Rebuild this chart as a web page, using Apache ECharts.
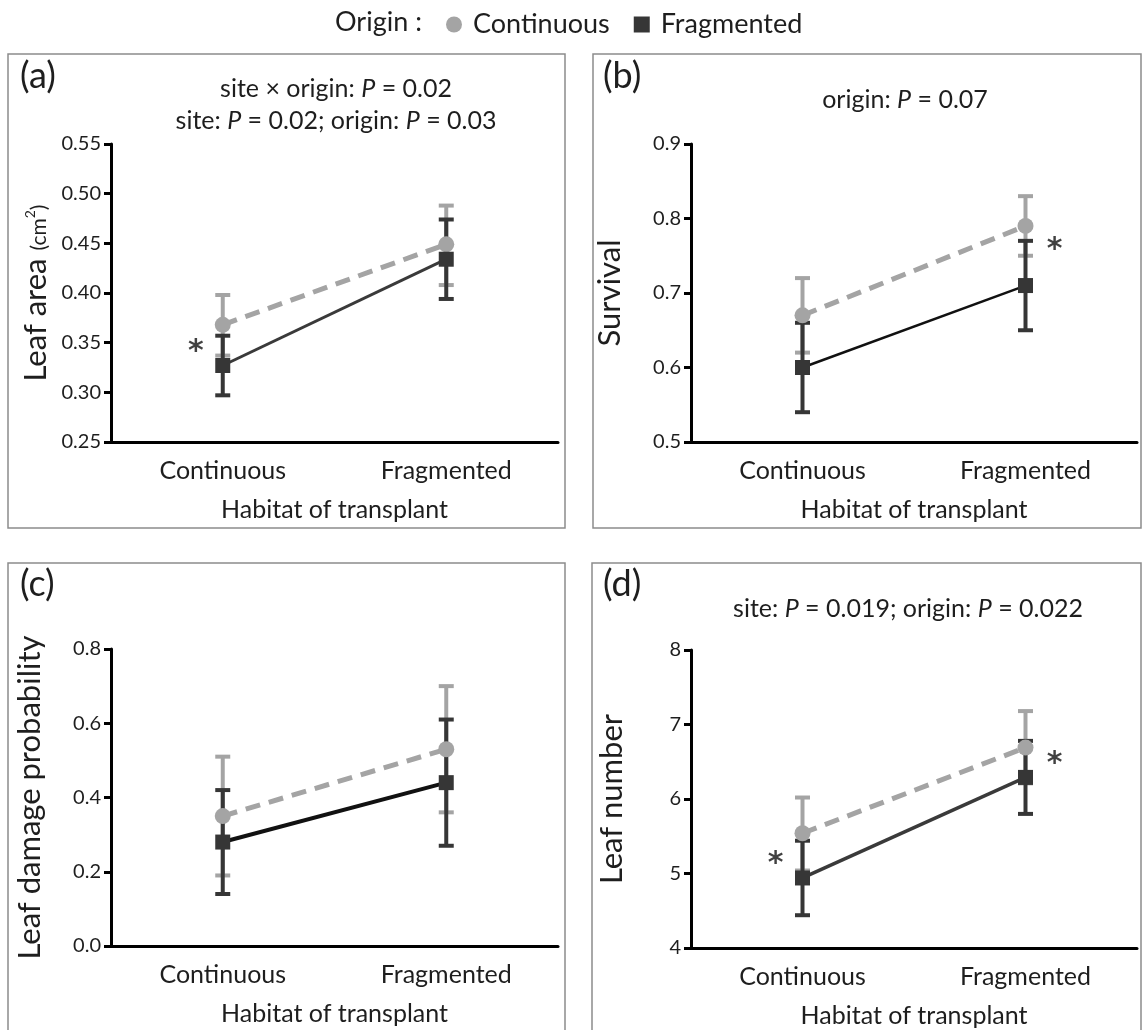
<!DOCTYPE html>
<html>
<head>
<meta charset="utf-8">
<script src="https://cdn.jsdelivr.net/npm/echarts@6/dist/echarts.min.js"></script>
<style>
html,body{margin:0;padding:0;background:#fff;}
#c{width:1143px;height:1030px;}
</style>
</head>
<body>
<div id="c"></div>
<script>
// ---------- data ----------
const categories = ['Continuous', 'Fragmented'];
const originNames = ['Continuous', 'Fragmented'];

// (a) leaf area
const leafAreaCont = [0.368, 0.449];
const leafAreaContLo = [0.337, 0.408];
const leafAreaContHi = [0.398, 0.488];
const leafAreaFrag = [0.327, 0.434];
const leafAreaFragLo = [0.297, 0.394];
const leafAreaFragHi = [0.357, 0.474];
const leafAreaTicks = ['0.25', '0.30', '0.35', '0.40', '0.45', '0.50', '0.55'];
const leafAreaStars = [[0, 0.346]];

// (b) survival
const survivalCont = [0.67, 0.79];
const survivalContLo = [0.62, 0.75];
const survivalContHi = [0.72, 0.83];
const survivalFrag = [0.60, 0.71];
const survivalFragLo = [0.54, 0.65];
const survivalFragHi = [0.66, 0.77];
const survivalTicks = ['0.5', '0.6', '0.7', '0.8', '0.9'];
const survivalStars = [[1, 0.765]];

// (c) leaf damage probability
const damageCont = [0.35, 0.53];
const damageContLo = [0.19, 0.36];
const damageContHi = [0.51, 0.70];
const damageFrag = [0.28, 0.44];
const damageFragLo = [0.14, 0.27];
const damageFragHi = [0.42, 0.61];
const damageTicks = ['0.0', '0.2', '0.4', '0.6', '0.8'];
const damageStars = [];

// (d) leaf number
const leafNumCont = [5.54, 6.69];
const leafNumContLo = [5.04, 6.21];
const leafNumContHi = [6.02, 7.18];
const leafNumFrag = [4.94, 6.29];
const leafNumFragLo = [4.44, 5.80];
const leafNumFragHi = [5.44, 6.78];
const leafNumTicks = ['4', '5', '6', '7', '8'];
const leafNumStars = [[0, 5.2], [1, 6.55]];

// ---------- styling ----------
const FONT = 'Lato, "Open Sans", sans-serif';
const INK = '#1e1e1e';
const GREY = '#a4a4a4';
const DARK = '#363636';

const panels = [
  { grid: { left: 111, width: 447, top: 144, height: 298 }, ticks: leafAreaTicks,
    name: '{a|Leaf area }{b|(cm}{s|2}{b|)}', nameGap: 60,
    cont: leafAreaCont, contLo: leafAreaContLo, contHi: leafAreaContHi,
    frag: leafAreaFrag, fragLo: leafAreaFragLo, fragHi: leafAreaFragHi,
    stars: leafAreaStars, darkLine: '#3a3a3a', darkWidth: 3 },
  { grid: { left: 691, width: 446, top: 144, height: 298 }, ticks: survivalTicks,
    name: 'Survival', nameGap: 66,
    cont: survivalCont, contLo: survivalContLo, contHi: survivalContHi,
    frag: survivalFrag, fragLo: survivalFragLo, fragHi: survivalFragHi,
    stars: survivalStars, darkLine: '#111', darkWidth: 2.5 },
  { grid: { left: 111, width: 447, top: 649, height: 297 }, ticks: damageTicks,
    name: 'Leaf damage probability', nameGap: 66,
    cont: damageCont, contLo: damageContLo, contHi: damageContHi,
    frag: damageFrag, fragLo: damageFragLo, fragHi: damageFragHi,
    stars: damageStars, darkLine: '#111', darkWidth: 4 },
  { grid: { left: 691, width: 446, top: 650, height: 298 }, ticks: leafNumTicks,
    name: 'Leaf number', nameGap: 64,
    cont: leafNumCont, contLo: leafNumContLo, contHi: leafNumContHi,
    frag: leafNumFrag, fragLo: leafNumFragLo, fragHi: leafNumFragHi,
    stars: leafNumStars, darkLine: '#3a3a3a', darkWidth: 3.5 }
];

function errRender(color) {
  return function (params, api) {
    const p1 = api.coord([api.value(0), api.value(1)]);
    const p2 = api.coord([api.value(0), api.value(2)]);
    const x = p1[0], hw = 7.5;
    const st = { stroke: color, lineWidth: 4 };
    return {
      type: 'group',
      children: [
        { type: 'line', shape: { x1: x, y1: p1[1], x2: x, y2: p2[1] }, style: st },
        { type: 'line', shape: { x1: x - hw, y1: p1[1], x2: x + hw, y2: p1[1] }, style: st },
        { type: 'line', shape: { x1: x - hw, y1: p2[1], x2: x + hw, y2: p2[1] }, style: st }
      ]
    };
  };
}

const grids = [], xAxes = [], yAxes = [], series = [];
panels.forEach(function (p, i) {
  grids.push(p.grid);
  xAxes.push({
    type: 'category', gridIndex: i, data: categories, boundaryGap: true,
    axisLine: { lineStyle: { color: '#000', width: 3 } },
    axisTick: { alignWithLabel: true, length: 7, lineStyle: { color: '#000', width: 3 } },
    axisLabel: { fontFamily: FONT, fontSize: 25, color: INK, margin: 16 },
    name: 'Habitat of transplant', nameLocation: 'middle', nameGap: 55,
    nameTextStyle: { fontFamily: FONT, fontSize: 25, color: INK }
  });
  const tv = p.ticks.map(Number);
  yAxes.push({
    type: 'value', gridIndex: i, min: tv[0], max: tv[tv.length - 1],
    interval: tv[1] - tv[0],
    splitLine: { show: false },
    axisLine: { show: true, lineStyle: { color: '#000', width: 3 } },
    axisTick: { show: true, length: 7, lineStyle: { color: '#000', width: 3 } },
    axisLabel: {
      fontFamily: FONT, fontSize: 20, color: INK, margin: 10,
      formatter: function (v) {
        let best = p.ticks[0], bd = Infinity;
        p.ticks.forEach(function (t) { const d = Math.abs(Number(t) - v); if (d < bd) { bd = d; best = t; } });
        return best;
      }
    },
    name: p.name, nameLocation: 'middle', nameGap: p.nameGap, nameRotate: 90,
    nameTextStyle: {
      fontFamily: FONT, fontSize: 31, color: INK,
      rich: {
        a: { fontFamily: FONT, fontSize: 31, color: INK },
        b: { fontFamily: FONT, fontSize: 21, color: INK, padding: [7, 0, 0, 0] },
        s: { fontFamily: FONT, fontSize: 14, color: INK, padding: [0, 0, 10, 0] }
      }
    }
  });
  const pair = (lo, hi) => lo.map((l, k) => [k, l, hi[k]]);
  series.push({
    type: 'custom', xAxisIndex: i, yAxisIndex: i, renderItem: errRender(GREY),
    data: pair(p.contLo, p.contHi), encode: { x: 0, y: [1, 2] }, z: 2, silent: true
  });
  series.push({
    type: 'custom', xAxisIndex: i, yAxisIndex: i, renderItem: errRender(DARK),
    data: pair(p.fragLo, p.fragHi), encode: { x: 0, y: [1, 2] }, z: 3, silent: true
  });
  series.push({
    type: 'line', name: originNames[0], xAxisIndex: i, yAxisIndex: i, data: p.cont,
    symbol: 'circle', symbolSize: 16, z: 4,
    itemStyle: { color: GREY, borderWidth: 0 },
    lineStyle: { color: GREY, width: 5, type: [15, 9] }
  });
  series.push({
    type: 'line', name: originNames[1], xAxisIndex: i, yAxisIndex: i, data: p.frag,
    symbol: 'rect', symbolSize: 15, z: 5,
    itemStyle: { color: DARK, borderWidth: 0 },
    lineStyle: { color: p.darkLine, width: p.darkWidth, type: 'solid' }
  });
  series.push({
    type: 'scatter', xAxisIndex: i, yAxisIndex: i, symbolSize: 1, z: 6, silent: true,
    itemStyle: { color: 'rgba(0,0,0,0)' },
    data: p.stars.map(function (s) {
      return { value: s, label: { offset: [s[0] === 0 ? -27 : 29, 6] } };
    }),
    label: { show: true, position: 'inside', formatter: '*', fontFamily: '"DejaVu Sans", sans-serif',
      fontSize: 30, fontWeight: 'bold', color: '#111' }
  });
});

const boxStyle = { fill: 'none', stroke: '#8c8c8c', lineWidth: 1.5 };
const txt = (left, top, text, size) => ({
  type: 'text', left: left, top: top,
  style: { text: text, fontFamily: FONT, fontSize: size, fill: INK }
});
const ctxt = (cx, cy, text, size) => ({
  type: 'text', x: cx, y: cy,
  style: { text: text, fontFamily: FONT, fontSize: size, fill: INK, align: 'center', verticalAlign: 'middle',
    rich: { i: { fontFamily: FONT, fontSize: size, fontStyle: 'italic', fill: INK } } }
});

const option = {
  animation: false,
  backgroundColor: '#fff',
  grid: grids, xAxis: xAxes, yAxis: yAxes, series: series,
  legend: {
    left: 441, top: 6, itemWidth: 16, itemHeight: 16, itemGap: 24, selectedMode: false,
    data: [{ name: originNames[0], icon: 'circle' }, { name: originNames[1], icon: 'rect' }],
    textStyle: { fontFamily: FONT, fontSize: 27, color: INK, padding: [0, 0, 0, 6] }
  },
  graphic: [
    { type: 'rect', shape: { x: 8, y: 54, width: 557, height: 474 }, style: boxStyle, silent: true },
    { type: 'rect', shape: { x: 593, y: 54, width: 548, height: 474 }, style: boxStyle, silent: true },
    { type: 'rect', shape: { x: 8, y: 563, width: 557, height: 480 }, style: boxStyle, silent: true },
    { type: 'rect', shape: { x: 592, y: 563, width: 549, height: 480 }, style: boxStyle, silent: true },
    { type: 'text', x: 335, y: 22, style: { text: 'Origin :', fontFamily: FONT, fontSize: 27, fill: INK, verticalAlign: 'middle' } },
    txt(20, 58, '(a)', 36),
    txt(603, 58, '(b)', 36),
    txt(20, 566, '(c)', 36),
    txt(603, 566, '(d)', 36),
    ctxt(336, 89, 'site × origin: {i|P} = 0.02', 25),
    ctxt(336, 121, 'site: {i|P} = 0.02; origin: {i|P} = 0.03', 25),
    ctxt(905, 100, 'origin: {i|P} = 0.07', 25),
    ctxt(908, 609, 'site: {i|P} = 0.019; origin: {i|P} = 0.022', 25)
  ]
};

const chart = echarts.init(document.getElementById('c'), null, { renderer: 'canvas' });
chart.setOption(option);
</script>
</body>
</html>
